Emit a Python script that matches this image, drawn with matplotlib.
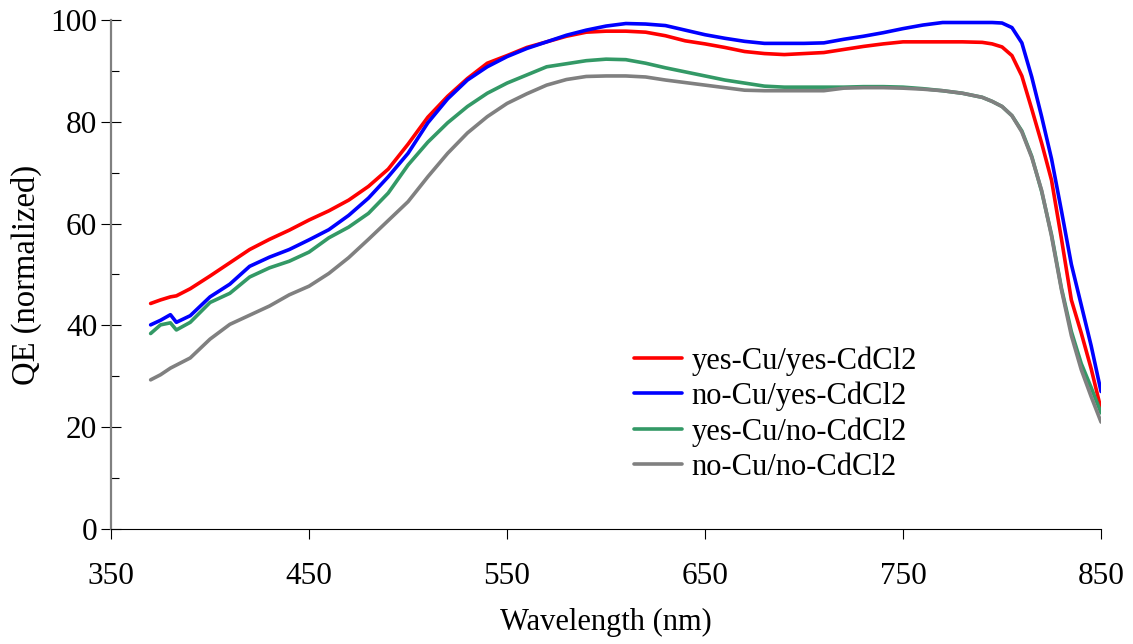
import matplotlib
matplotlib.use('Agg')
import matplotlib.pyplot as plt
from matplotlib.ticker import MultipleLocator

# Wavelength grid (nm)
wavelength = [370, 375, 380, 383, 390, 400, 410, 420, 430, 440, 450, 460, 470, 480,
              490, 500, 510, 520, 530, 540, 550, 560, 570, 580, 590, 600, 610, 620,
              630, 640, 650, 660, 670, 680, 690, 700, 710, 720, 730, 740, 750, 760,
              770, 780, 790, 795, 800, 805, 810, 815, 820, 825, 830, 835, 840, 845, 850]

# QE (normalized) for each sample
qe_yescu_yescd = [44.3, 45.0, 45.6, 45.8, 47.2, 49.7, 52.3, 54.9, 56.9, 58.7, 60.7, 62.5,
                  64.6, 67.3, 70.7, 75.6, 80.9, 85.0, 88.5, 91.5, 93.0, 94.6, 95.7, 96.8,
                  97.6, 97.8, 97.8, 97.6, 96.9, 95.9, 95.3, 94.6, 93.8, 93.4, 93.2, 93.4,
                  93.6, 94.2, 94.8, 95.3, 95.7, 95.7, 95.7, 95.7, 95.6, 95.3, 94.7, 93.0,
                  89.0, 82.5, 75.8, 68.5, 57.0, 45.0, 38.5, 31.5, 23.5]
qe_nocu_yescd = [40.1, 41.0, 42.1, 40.6, 41.9, 45.6, 48.1, 51.6, 53.4, 54.9, 56.8, 58.8,
                 61.6, 65.0, 69.2, 73.8, 79.8, 84.5, 88.2, 90.8, 92.8, 94.4, 95.7, 97.0,
                 98.0, 98.8, 99.3, 99.2, 98.9, 98.0, 97.1, 96.4, 95.8, 95.4, 95.4, 95.4,
                 95.5, 96.2, 96.8, 97.5, 98.3, 99.0, 99.5, 99.5, 99.5, 99.5, 99.4, 98.5,
                 95.5, 88.8, 81.0, 72.7, 62.5, 52.0, 44.0, 36.0, 27.0]
qe_yescu_nocd = [38.4, 40.1, 40.5, 39.1, 40.6, 44.5, 46.3, 49.5, 51.3, 52.6, 54.4, 57.2,
                 59.3, 62.0, 66.0, 71.5, 76.0, 79.8, 83.0, 85.6, 87.6, 89.2, 90.8, 91.4,
                 92.0, 92.3, 92.2, 91.5, 90.6, 89.8, 89.0, 88.2, 87.6, 87.0, 86.8, 86.8,
                 86.8, 86.8, 86.9, 86.9, 86.8, 86.5, 86.1, 85.6, 84.8, 84.0, 83.0, 81.2,
                 78.2, 73.2, 66.3, 57.8, 47.3, 38.8, 32.5, 27.8, 22.8]
qe_nocu_nocd = [29.3, 30.3, 31.6, 32.2, 33.6, 37.3, 40.2, 42.0, 43.8, 46.0, 47.7, 50.2,
                53.3, 56.9, 60.6, 64.3, 69.2, 73.8, 77.8, 81.0, 83.6, 85.5, 87.2, 88.3,
                88.9, 89.0, 89.0, 88.8, 88.2, 87.7, 87.2, 86.7, 86.2, 86.1, 86.1, 86.1,
                86.1, 86.6, 86.7, 86.7, 86.6, 86.4, 86.1, 85.6, 84.8, 84.0, 83.0, 81.2,
                78.0, 73.0, 66.5, 57.5, 47.0, 38.0, 31.3, 26.0, 21.0]

labels = ['yes-Cu/yes-CdCl2', 'no-Cu/yes-CdCl2', 'yes-Cu/no-CdCl2', 'no-Cu/no-CdCl2']
colors = ['#FF0000', '#0000FF', '#339966', '#808080']
xticks = [350, 450, 550, 650, 750, 850]

plt.rcParams['font.family'] = ['Liberation Serif', 'DejaVu Serif']

fig = plt.figure(figsize=(11.33, 6.44), dpi=100)
ax = fig.add_axes([0.098, 0.1786, 0.8738, 0.7904])

series = [qe_yescu_yescd, qe_nocu_yescd, qe_yescu_nocd, qe_nocu_nocd]
# draw gray first so colored lines sit on top, keep legend order
for idx in [3, 2, 0, 1]:
    ax.plot(wavelength, series[idx], color=colors[idx], lw=2.6, label=labels[idx],
            solid_capstyle='round', zorder=3 + idx)

ax.set_xlim(350, 850)
ax.set_ylim(0, 100)
ax.set_xticks(xticks)
ax.yaxis.set_major_locator(MultipleLocator(20))
ax.yaxis.set_minor_locator(MultipleLocator(10))

for side in ['top', 'right']:
    ax.spines[side].set_visible(False)
ax.spines['left'].set_color('#808080')
ax.spines['left'].set_linewidth(1.6)
ax.spines['bottom'].set_color('black')
ax.spines['bottom'].set_linewidth(0.8)

ax.tick_params(axis='y', which='major', direction='inout', length=14, width=0.8,
               labelsize=22.5, pad=3)
ax.tick_params(axis='y', which='minor', direction='in', length=6, width=0.8)
ax.tick_params(axis='x', which='major', direction='out', length=7, width=0.8,
               labelsize=22.5, pad=17)

ax.set_xlabel('Wavelength (nm)', fontsize=22, labelpad=12)
ax.set_ylabel('QE (normalized)', fontsize=23.5, labelpad=6)

handles, labs = ax.get_legend_handles_labels()
order = [labs.index(l) for l in labels]
ax.legend([handles[i] for i in order], [labs[i] for i in order],
          loc='center left', bbox_to_anchor=(0.5, 0.226), frameon=False,
          fontsize=22, handlelength=1.6, handletextpad=0.3, labelspacing=0.2)

fig.savefig('out.png', dpi=100)
